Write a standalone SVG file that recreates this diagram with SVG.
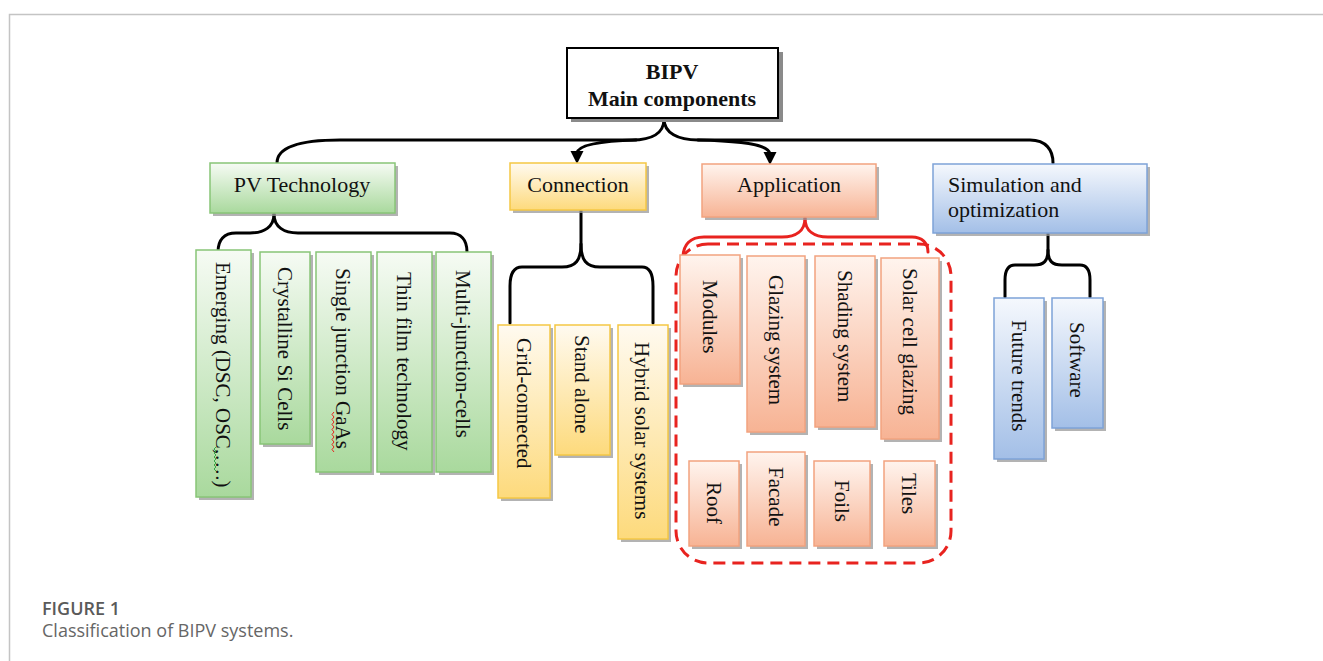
<svg xmlns="http://www.w3.org/2000/svg" width="1323" height="661" viewBox="0 0 1323 661">
<style>
.sh{fill:#9a9a9a;opacity:0.75}
.g{fill:url(#gG);stroke:#88c577;stroke-width:1.5}
.y{fill:url(#gY);stroke:#f5c744;stroke-width:1.5}
.o{fill:url(#gO);stroke:#f2a37f;stroke-width:1.5}
.b{fill:url(#gB);stroke:#7ea3d8;stroke-width:1.5}
.t{font-family:"Liberation Serif","Times New Roman",serif;font-size:22px;fill:#111}
.v{font-family:"Liberation Serif","Times New Roman",serif;font-size:21px;fill:#111;dominant-baseline:central}
.c{fill:none;stroke:#000;stroke-width:3;stroke-linecap:round}
.r{fill:none;stroke:#e8231f;stroke-width:3;stroke-linecap:round}
.ah{fill:#000}
</style>
<defs>
<linearGradient id="gG" x1="0" y1="0" x2="0" y2="1"><stop offset="0" stop-color="#f6fbf4"/><stop offset="1" stop-color="#a9d99d"/></linearGradient>
<linearGradient id="gY" x1="0" y1="0" x2="0" y2="1"><stop offset="0" stop-color="#fffaf0"/><stop offset="1" stop-color="#fdda7c"/></linearGradient>
<linearGradient id="gO" x1="0" y1="0" x2="0" y2="1"><stop offset="0" stop-color="#fff4ee"/><stop offset="1" stop-color="#f7b394"/></linearGradient>
<linearGradient id="gB" x1="0" y1="0" x2="0" y2="1"><stop offset="0" stop-color="#f5f8fd"/><stop offset="1" stop-color="#a3bfe7"/></linearGradient>
</defs>

<rect width="1323" height="661" fill="#fff"/>
<path d="M9.5,661 L9.5,14.5 L1323,14.5" fill="none" stroke="#c4c4c4" stroke-width="1.5"/>

<g id="connectors">
<path class="c" d="M664,119 C664,133 652,140 632,140 L340,140 C298,140 277,148 277,163"/>
<path class="c" d="M664,119 C664,133 678,140 698,140 L1030,140 C1046,140 1053,150 1053,163"/>
<path class="c" d="M636,140 C600,141 578,145 577,153"/>
<path class="ah" d="M570.5,151 L583.5,151 L577,164 Z"/>
<path class="c" d="M698,140 C745,141 769,145 770,154"/>
<path class="ah" d="M763.5,152 L776.5,152 L770,165 Z"/>
<path class="c" d="M274,214 C274,227 264,233 250,233 L236,233 C224,233 218,240 218,252"/>
<path class="c" d="M274,214 C274,227 284,233 298,233 L450,233 C461,233 467,240 467,252"/>
<path class="c" d="M581,210 L581,244 C581,260 576,267 562,267 L522,267 C514,267 510,274 510,286 L510,323"/>
<path class="c" d="M581,244 C581,260 586,267 600,267 L642,267 C650,267 653,274 653,286 L653,323"/>
<path class="c" d="M1048,233 L1048,250 C1048,261 1044,265 1034,265 L1015,265 C1008,265 1005,270 1005,280 L1005,297"/>
<path class="c" d="M1048,250 C1048,261 1052,265 1062,265 L1080,265 C1087,265 1090,270 1090,280 L1090,297"/>
<path class="r" d="M805,218 C805,231 796,237 782,237 L704,237 C690,237 683,245 683,258"/>
<path class="r" d="M805,218 C805,231 814,237 828,237 L912,237 C922,237 928,243 928,252"/>
<rect x="676" y="244" width="275" height="319" rx="32" ry="32" fill="none" stroke="#e8231f" stroke-width="3" stroke-dasharray="12 7"/>
</g>

<g id="main">
<rect x="571" y="52" width="212" height="70" fill="#8a8a8a"/>
<rect x="567" y="48" width="211" height="70" fill="#fff" stroke="#000" stroke-width="2"/>
<text class="t" x="672" y="79" text-anchor="middle" font-weight="bold">BIPV</text>
<text class="t" x="672" y="106" text-anchor="middle" font-weight="bold">Main components</text>
</g>

<g id="pv">
<rect class="sh" x="213" y="166" width="185" height="50"/>
<rect class="g" x="210" y="163" width="185" height="50"/>
<text class="t" x="302" y="192" text-anchor="middle">PV Technology</text>
</g>
<g id="connection">
<rect class="sh" x="513" y="166" width="136" height="47"/>
<rect class="y" x="510" y="163" width="136" height="47"/>
<text class="t" x="578" y="192" text-anchor="middle">Connection</text>
</g>
<g id="application">
<rect class="sh" x="705" y="167" width="174" height="53"/>
<rect class="o" x="702" y="164" width="174" height="53"/>
<text class="t" x="789" y="192" text-anchor="middle">Application</text>
</g>
<g id="simulation">
<rect class="sh" x="936" y="167" width="214" height="69"/>
<rect class="b" x="933" y="164" width="214" height="69"/>
<text class="t" x="948" y="192">Simulation and</text>
<text class="t" x="948" y="217">optimization</text>
</g>

<g id="emerging">
<rect class="sh" x="199" y="253" width="55" height="247"/>
<rect class="g" x="196" y="250" width="55" height="247"/>
<text class="v" transform="translate(223,262) rotate(90)">Emerging (DSC, OSC,….)</text>
<path d="M216,447 l-2,2 l2,2 l-2,2 l2,2 l-2,2 l2,2 l-2,2 l2,2 l-2,2 l2,2 l-2,2 l2,2" fill="none" stroke="#3aa64a" stroke-width="1"/>
</g>
<g id="crystalline">
<rect class="sh" x="263" y="255" width="50" height="192"/>
<rect class="g" x="260" y="252" width="50" height="192"/>
<text class="v" transform="translate(285,267) rotate(90)">Crystalline Si Cells</text>
</g>
<g id="single">
<rect class="sh" x="319" y="255" width="55" height="220"/>
<rect class="g" x="316" y="252" width="55" height="220"/>
<text class="v" transform="translate(343,268) rotate(90)">Single junction GaAs</text>
<path d="M334,412 l-2,2.5 l2,2.5 l-2,2.5 l2,2.5 l-2,2.5 l2,2.5 l-2,2.5 l2,2.5 l-2,2.5 l2,2.5 l-2,2.5 l2,2.5 l-2,2.5 l2,2.5 l-2,2.5 l2,2.5" fill="none" stroke="#e8231f" stroke-width="1"/>
</g>
<g id="thinfilm">
<rect class="sh" x="380" y="255" width="55" height="220"/>
<rect class="g" x="377" y="252" width="55" height="220"/>
<text class="v" transform="translate(404,272) rotate(90)">Thin film technology</text>
</g>
<g id="multi">
<rect class="sh" x="439" y="255" width="55" height="220"/>
<rect class="g" x="436" y="252" width="55" height="220"/>
<text class="v" transform="translate(463,270) rotate(90)">Multi-junction-cells</text>
</g>

<g id="grid">
<rect class="sh" x="501" y="328" width="52" height="173"/>
<rect class="y" x="498" y="325" width="52" height="173"/>
<text class="v" transform="translate(524,338) rotate(90)">Grid-connected</text>
</g>
<g id="standalone">
<rect class="sh" x="558" y="328" width="55" height="130"/>
<rect class="y" x="555" y="325" width="55" height="130"/>
<text class="v" transform="translate(582,335) rotate(90)">Stand alone</text>
</g>
<g id="hybrid">
<rect class="sh" x="621" y="328" width="50" height="214"/>
<rect class="y" x="618" y="325" width="50" height="214"/>
<text class="v" transform="translate(642,342) rotate(90)">Hybrid solar systems</text>
</g>

<g id="modules">
<rect class="sh" x="683" y="258" width="60" height="129"/>
<rect class="o" x="680" y="255" width="60" height="129"/>
<text class="v" transform="translate(710,280) rotate(90)">Modules</text>
</g>
<g id="glazing">
<rect class="sh" x="750" y="259" width="58" height="176"/>
<rect class="o" x="747" y="256" width="58" height="176"/>
<text class="v" transform="translate(776,275) rotate(90)">Glazing system</text>
</g>
<g id="shading">
<rect class="sh" x="818" y="259" width="60" height="171"/>
<rect class="o" x="815" y="256" width="60" height="171"/>
<text class="v" transform="translate(845,270) rotate(90)">Shading system</text>
</g>
<g id="solarcell">
<rect class="sh" x="884" y="261" width="58" height="181"/>
<rect class="o" x="881" y="258" width="58" height="181"/>
<text class="v" transform="translate(910,268) rotate(90)">Solar cell glazing</text>
</g>
<g id="roof">
<rect class="sh" x="692" y="464" width="50" height="85"/>
<rect class="o" x="689" y="461" width="50" height="85"/>
<text class="v" transform="translate(714,482) rotate(90)">Roof</text>
</g>
<g id="facade">
<rect class="sh" x="750" y="455" width="58" height="94"/>
<rect class="o" x="747" y="452" width="58" height="94"/>
<text class="v" transform="translate(776,467) rotate(90)">Facade</text>
</g>
<g id="foils">
<rect class="sh" x="817" y="464" width="56" height="85"/>
<rect class="o" x="814" y="461" width="56" height="85"/>
<text class="v" transform="translate(842,480) rotate(90)">Foils</text>
</g>
<g id="tiles">
<rect class="sh" x="887" y="464" width="51" height="85"/>
<rect class="o" x="884" y="461" width="51" height="85"/>
<text class="v" transform="translate(909,473) rotate(90)">Tiles</text>
</g>

<g id="future">
<rect class="sh" x="997" y="301" width="50" height="161"/>
<rect class="b" x="994" y="298" width="50" height="161"/>
<text class="v" transform="translate(1019,320) rotate(90)">Future trends</text>
</g>
<g id="software">
<rect class="sh" x="1055" y="301" width="51" height="130"/>
<rect class="b" x="1052" y="298" width="51" height="130"/>
<text class="v" transform="translate(1077,322) rotate(90)">Software</text>
</g>

<g id="caption">
<text x="42" y="615" font-family="'Open Sans','Noto Sans',sans-serif" font-size="18" font-weight="600" fill="#5a5a5a">FIGURE 1</text>
<text x="42" y="637" font-family="'Open Sans','Noto Sans',sans-serif" font-size="18" fill="#666">Classification of BIPV systems.</text>
</g>
</svg>
